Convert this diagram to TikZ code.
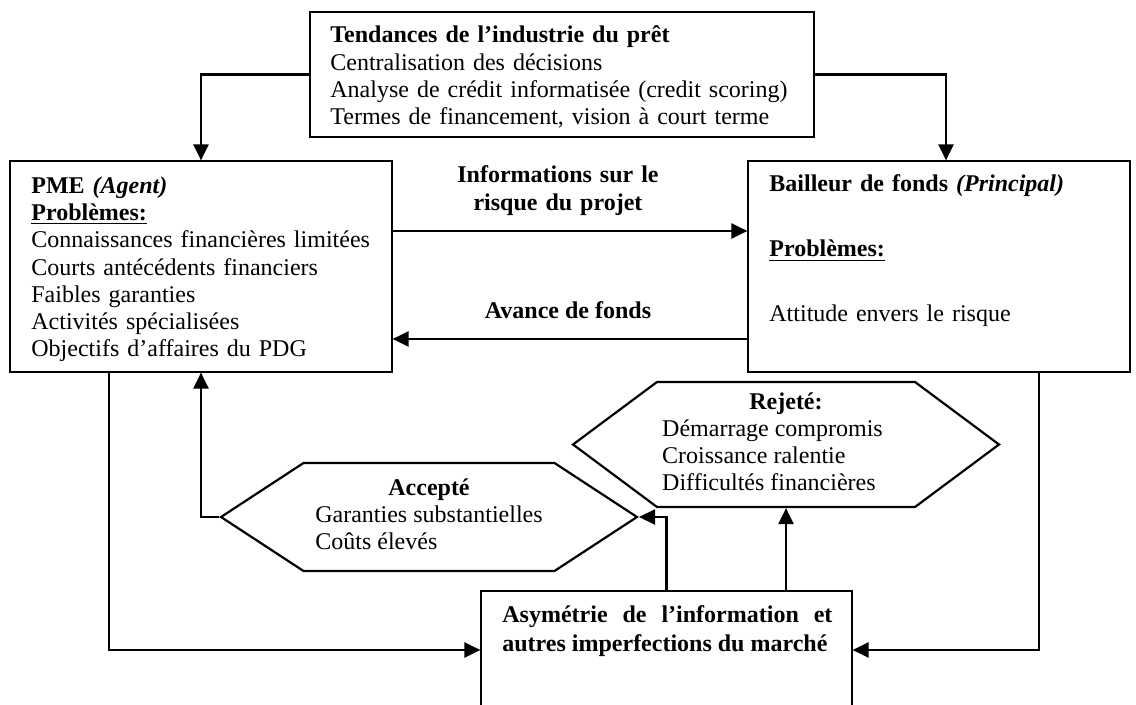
\documentclass[tikz,border=0pt]{standalone}
\usepackage{fontspec}
\setmainfont{Liberation Serif}
\usetikzlibrary{arrows.meta,calc,shapes.symbols}

\tikzset{
    box/.style={draw, line width=0.6pt, inner sep=0pt},
    hexa/.style={draw, line width=1.1pt, signal, signal to=west and east, inner sep=0pt,
        font=\fontsize{12pt}{13.6pt}\selectfont},
    txt/.style={font=\fontsize{12pt}{13.6pt}\selectfont, inner sep=0pt, align=left},
    arr/.style={line width=1.1pt, -{Triangle[length=8pt,width=7.5pt]}},
}

\begin{document}
\begin{tikzpicture}[x=0.5pt, y=-0.5pt]
    \useasboundingbox (0,0) rectangle (1136,705);

    \node[box, minimum width=252pt, minimum height=62.5pt] (tendances) at (562,74.5) {};
    \node[box, minimum width=191pt, minimum height=105.5pt] (pme) at (201,266.5) {};
    \node[box, minimum width=191pt, minimum height=105.5pt] (bailleur) at (939,266.5) {};
    \node[box, minimum width=185.5pt, minimum height=59pt] (asymetrie) at (666.5,650) {};

    \node[txt, text width=230pt, anchor=base west] (tendancestxt) at (330,43)
        {\textbf{Tendances de l’industrie du prêt}\\ Centralisation des décisions\\
         Analyse de crédit informatisée (credit scoring)\\ Termes de financement, vision à court terme};
    \node[txt, text width=185pt, anchor=base west] (pmetxt) at (31,193.5)
        {\textbf{PME \textit{(Agent)}}\\ \textbf{\underline{Problèmes:}}\\ Connaissances financières limitées\\
         Courts antécédents financiers\\ Faibles garanties\\ Activités spécialisées\\ Objectifs d’affaires du PDG};
    \node[txt, text width=185pt, anchor=base west] (bailleurtxt) at (769,192)
        {\textbf{Bailleur de fonds \textit{(Principal)}}\\[18.9pt] \textbf{\underline{Problèmes:}}\\[18.9pt]
         Attitude envers le risque};
    \node[txt, text width=165pt, align=justify, anchor=base west, font=\fontsize{12pt}{14.2pt}\selectfont\bfseries]
        (asymtxt) at (502,623) {Asymétrie de l’information et\linebreak autres imperfections du marché};

    \node[txt, text width=120pt, align=center, anchor=base] (infotxt) at (558,183)
        {\textbf{Informations sur le}\\ \textbf{risque du projet}};
    \node[txt, anchor=base] (avancetxt) at (568,319) {\textbf{Avance de fonds}};

    \node[hexa, minimum width=208pt, minimum height=54pt, signal pointer angle=66.4] (accepte) at (429,517)
        {\begin{tabular}{@{}l@{}}\multicolumn{1}{@{}c@{}}{\textbf{Accepté}}\\ Garanties substantielles\\ Coûts élevés\end{tabular}};
    \node[hexa, minimum width=213pt, minimum height=62.5pt, signal pointer angle=73.3] (rejete) at (786,444.5)
        {\begin{tabular}{@{}l@{\hspace{13.5pt}}}\multicolumn{1}{@{}c@{}}{\textbf{Rejeté:}}\\ Démarrage compromis\\
         Croissance ralentie\\ Difficultés financières\end{tabular}};

    \draw[arr] (tendances.west) -| (pme.north);
    \draw[arr] (tendances.east) -| ($(bailleur.north)+(7,0)$);
    \draw[arr] ($(pme.east)+(0,-35.5)$) -- ($(bailleur.west)+(0,-35.5)$);
    \draw[arr] ($(bailleur.west)+(0,72.5)$) -- ($(pme.east)+(0,72.5)$);

    \draw[arr] ($(pme.south)+(-92,0)$) |- (asymetrie.west);
    \draw[arr] ($(bailleur.south)+(100,0)$) |- (asymetrie.east);
    \draw[arr] (accepte.west) -| (pme.south);
    \draw[arr] (asymetrie.north) |- (accepte.east);
    \draw[arr] (rejete.south |- asymetrie.north) -- (rejete.south);

\end{tikzpicture}
\end{document}
